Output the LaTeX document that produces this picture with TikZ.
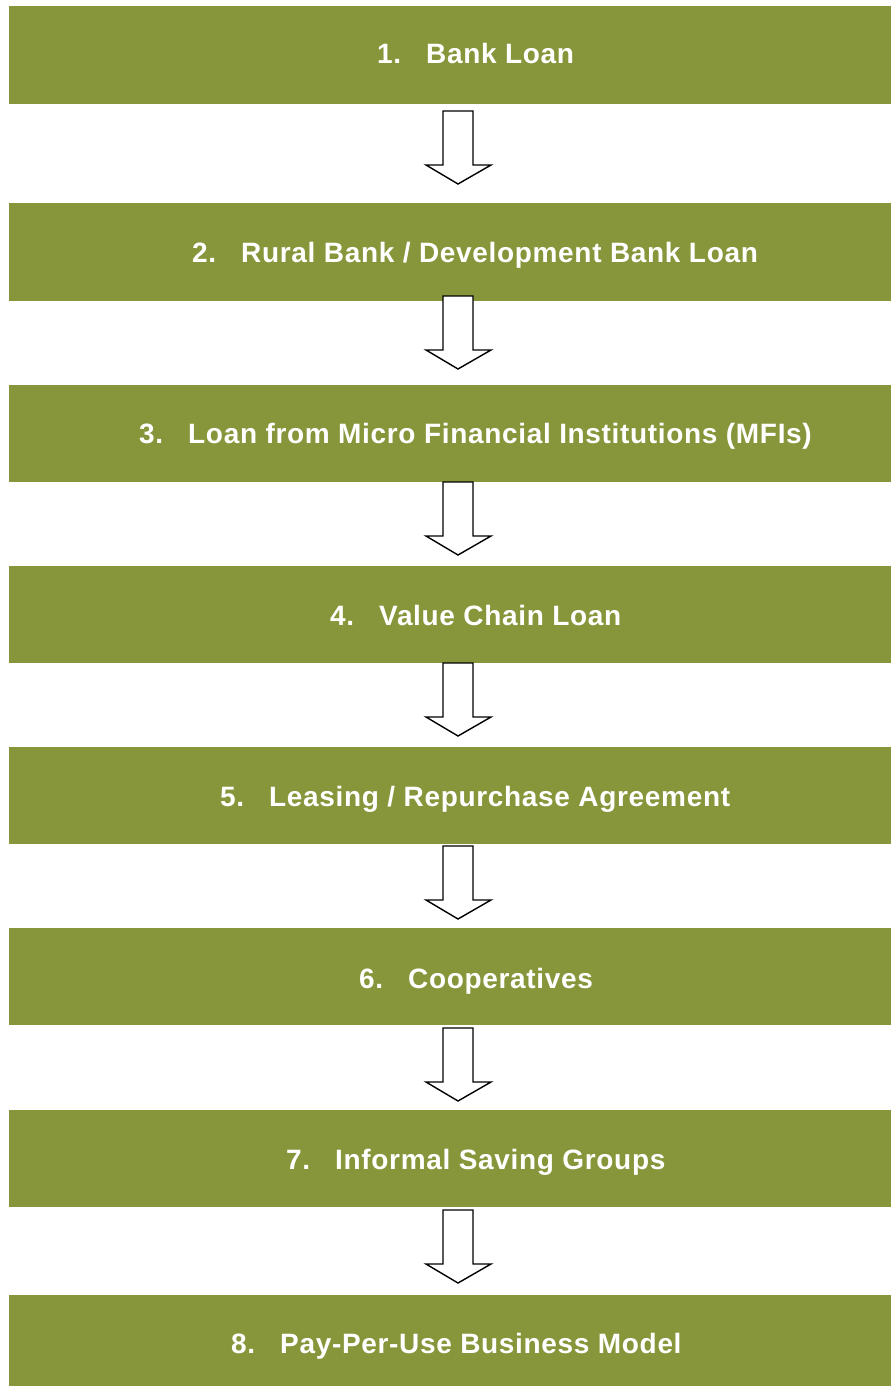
\documentclass[tikz,border=0pt]{standalone}
\usepackage{fontspec}
\setmainfont{Liberation Sans}
\definecolor{boxgreen}{RGB}{135,150,58}
\newcommand{\itemnum}[1]{\makebox[49pt][l]{#1}}
\begin{document}
\begin{tikzpicture}[x=1pt,y=-1pt,
  stepbox/.style={fill=boxgreen, draw=none, inner sep=0pt},
  steptext/.style={text=white, font=\fontsize{28}{32}\selectfont\bfseries\addfontfeature{LetterSpace=2.4}, inner sep=0pt, anchor=base west},
  blockarrow/.style={draw=black, fill=white, line width=1.4pt, line join=miter}
]
\useasboundingbox (0,0) rectangle (891,1386);
% boxes: top, bottom, text start x, baseline, label
\foreach \i/\t/\b/\x/\y/\lab in {
  1/6/104/377/63.5/{\itemnum{1.}Bank Loan},
  2/203/301/192/262/{\itemnum{2.}Rural Bank / Development Bank Loan},
  3/385/482/139/443.5/{\itemnum{3.}Loan from Micro Financial Institutions (MFIs)},
  4/566/663/330/625/{\itemnum{4.}Value Chain Loan},
  5/747/844/220/806/{\itemnum{5.}Leasing / Repurchase Agreement},
  6/928/1025/359/988/{\itemnum{6.}Cooperatives},
  7/1110/1207/286/1169/{\itemnum{7.}Informal Saving Groups},
  8/1295/1386/231/1353/{\itemnum{8.}Pay-Per-Use Business Model}}{
  \fill[boxgreen] (9,\t) rectangle (891,\b) coordinate[pos=0.5] (b\i);
  \node[steptext] (t\i) at (\x,\y) {\lab};
}
% block arrows
\foreach \t in {111,296,482,663,846,1028,1210}{
  \draw[blockarrow] (443,\t) -- (473,\t) -- (473,\t+54) -- (491,\t+54) -- (458,\t+73) -- (426,\t+54) -- (443,\t+54) -- cycle;
}
\end{tikzpicture}
\end{document}
